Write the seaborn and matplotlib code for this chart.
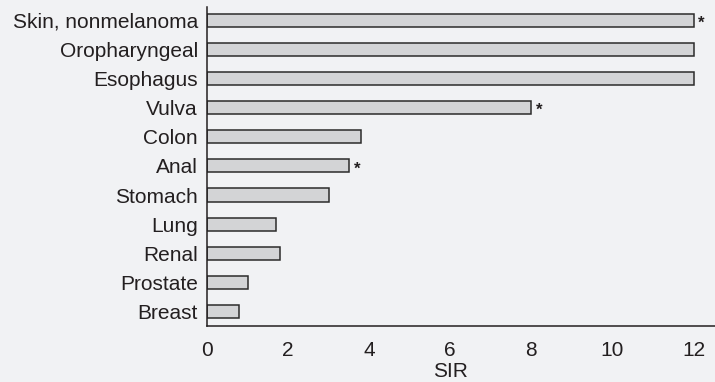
import matplotlib
matplotlib.use('Agg')
import matplotlib.pyplot as plt
import seaborn as sns
import pandas as pd

# SIR by cancer site
sites = ['Skin, nonmelanoma', 'Oropharyngeal', 'Esophagus', 'Vulva', 'Colon',
         'Anal', 'Stomach', 'Lung', 'Renal', 'Prostate', 'Breast']
sir = [12.0, 12.0, 12.0, 8.0, 3.8, 3.5, 3.0, 1.7, 1.8, 1.0, 0.78]
significant = ['Skin, nonmelanoma', 'Vulva', 'Anal']
xticks = [0, 2, 4, 6, 8, 10, 12]

data = pd.DataFrame({'Site': sites, 'SIR': sir})

bg = '#f1f2f4'
ink = '#231f20'

sns.set_style('white')
plt.rcParams['font.family'] = ['Liberation Sans', 'DejaVu Sans']

fig = plt.figure(figsize=(7.15, 3.82), dpi=100, facecolor=bg)
ax = fig.add_axes([0.2895, 0.1466, 0.7105, 0.8351])
ax.set_facecolor(bg)

sns.barplot(data=data, x='SIR', y='Site', orient='h', color='#d3d4d6',
            edgecolor='#2b2b2b', linewidth=1.1, width=0.45, saturation=1, ax=ax)

# asterisks for significant sites
for i, (s, v) in enumerate(zip(sites, sir)):
    if s in significant:
        ax.text(v + 0.12, i + 0.1, '*', ha='left', va='center',
                fontsize=12, fontweight='bold', color=ink)

ax.set_xlim(0, 12.53)
ax.set_ylim(10.5, -0.46)
ax.set_xticks(xticks)
ax.set_xticklabels([str(t) for t in xticks])
ax.set_xlabel('SIR', fontsize=15, color=ink, labelpad=1.5)
ax.xaxis.label.set_x(6 / 12.53)
ax.set_ylabel('')

for side in ['top', 'right']:
    ax.spines[side].set_visible(False)
for side in ['left', 'bottom']:
    ax.spines[side].set_color(ink)
    ax.spines[side].set_linewidth(1.1)

ax.tick_params(axis='x', direction='out', length=5.8, width=1.1, color=ink,
               labelsize=15, labelcolor=ink, pad=5)
ax.tick_params(axis='y', length=0, labelsize=15, labelcolor=ink, pad=6.5)

fig.savefig('out.png', dpi=100, facecolor=bg)
